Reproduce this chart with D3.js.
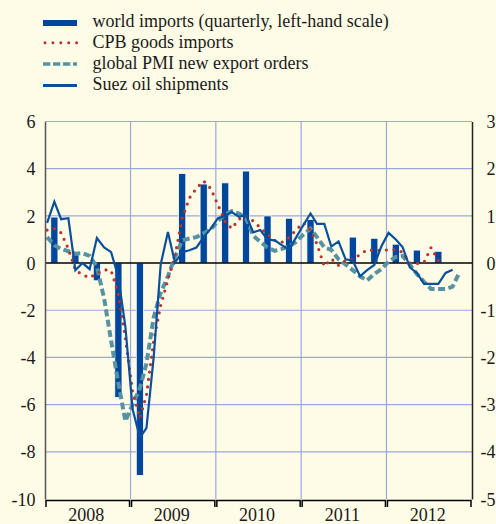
<!DOCTYPE html>
<html>
<head>
<meta charset="utf-8">
<script src="https://cdn.jsdelivr.net/npm/d3@7"></script>
<style>
    html, body { margin: 0; padding: 0; background: #fefce6; }
    svg { display: block; font-family: "Liberation Serif", "Times New Roman", serif; }
</style>
</head>
<body>
<div id="chart"></div>
<script>
// x axis: calendar years
const years = [2008, 2009, 2010, 2011, 2012];
const leftTicks = [-10, -8, -6, -4, -2, 0, 2, 4, 6];
const rightTicks = [-5, -4, -3, -2, -1, 0, 1, 2, 3];

// world imports, quarterly from 2008 Q1 (left-hand scale)
const worldImports = [1.95, 0.35, -0.75, -5.7, -9.0, 0, 3.8, 3.35, 3.4, 3.9, 2.0, 1.9, 1.85, 0, 1.1, 1.05, 0.8, 0.55, 0.5];

// monthly series from Jan 2008 (right-hand scale)
const cpbImports = [0.7, 0.73, 0.64, 0.3, -0.15, -0.25, -0.31, -0.22, -0.14, -0.16, -0.65, -1.6,
    -2.73, -3.28, -2.8, -1.65, -0.9, -0.35, 0.15, 0.95, 1.38, 1.58, 1.74, 1.58,
    1.23, 0.88, 0.73, 0.93, 1.0, 0.89, 0.75, 0.61, 0.48, 0.44, 0.54, 0.7,
    0.85, 0.7, 0.4, -0.07, 0.09, -0.05, 0.05, 0.08, 0.18, 0.28, 0.27, 0.27,
    0.28, 0.28, 0.23, 0.0, -0.01, 0.02, 0.33, 0.05];
const pmiExportOrders = [0.55, 0.38, 0.3, 0.25, 0.2, 0.21, 0.15, -0.08, -0.75, -1.65, -2.55, -3.35,
    -3.0, -2.65, -2.13, -1.15, -0.63, -0.28, 0.13, 0.48, 0.52, 0.55, 0.63, 0.71,
    0.89, 1.03, 1.1, 1.05, 0.95, 0.58, 0.45, 0.33, 0.26, 0.3, 0.35, 0.45,
    0.6, 0.73, 0.55, 0.33, 0.28, 0.08, -0.03, -0.15, -0.28, -0.37, -0.23, -0.13,
    0.03, 0.13, 0.15, -0.03, -0.23, -0.4, -0.55, -0.55, -0.55, -0.5, -0.18];
const suezOil = [0.85, 1.3, 0.93, 0.95, -0.15, 0.0, -0.13, 0.53, 0.33, 0.23, -0.3, -1.35,
    -3.1, -3.7, -3.5, -2.0, -0.03, 0.66, 0.01, 0.23, 0.27, 0.33, 0.55, 0.73,
    0.95, 1.0, 1.08, 0.98, 1.02, 0.65, 0.7, 0.5, 0.48, 0.38, 0.29, 0.54,
    0.8, 1.05, 0.83, 0.83, 0.35, 0.46, 0.08, 0.05, -0.28, -0.15, -0.04, 0.35,
    0.64, 0.5, 0.34, -0.09, -0.21, -0.44, -0.44, -0.44, -0.21, -0.14];

const legendLabels = [
    'world imports (quarterly, left-hand scale)',
    'CPB goods imports',
    'global PMI new export orders',
    'Suez oil shipments'
];

const colors = {
    bg: '#fefce6',
    grid: '#9ba7dc',
    bar: '#00479b',
    cpb: '#b8352b',
    pmi: '#5592a3',
    suez: '#0a4f9c'
};

const serif = '"Liberation Serif", "Times New Roman", serif';

function drawChart() {
    const width = 496, height = 524;
    const plot = { left: 45, right: 472, top: 121.5, bottom: 499 };

    const svg = d3.select('#chart').append('svg')
        .attr('width', width)
        .attr('height', height);

    svg.append('rect')
        .attr('width', width)
        .attr('height', height)
        .attr('fill', colors.bg);

    const x = d3.scaleTime()
        .domain([new Date(2008, 0, 1), new Date(2013, 0, 1)])
        .range([plot.left, plot.right]);
    const yL = d3.scaleLinear().domain([-10, 6]).range([plot.bottom, plot.top]);
    const yR = d3.scaleLinear().domain([-5, 3]).range([plot.bottom, plot.top]);

    const monthDate = i => new Date(2008, i, 10);
    const quarterDate = i => new Date(2008, i * 3 + 1, 10);

    // Grid
    svg.append('g').selectAll('line')
        .data(leftTicks.filter(d => d !== 0 && d !== -10))
        .join('line')
        .attr('x1', plot.left).attr('x2', plot.right)
        .attr('y1', d => yL(d)).attr('y2', d => yL(d))
        .attr('stroke', colors.grid).attr('stroke-width', 1.2);

    svg.append('g').selectAll('line')
        .data(years.slice(1))
        .join('line')
        .attr('x1', d => x(new Date(d, 0, 1))).attr('x2', d => x(new Date(d, 0, 1)))
        .attr('y1', plot.top).attr('y2', plot.bottom)
        .attr('stroke', colors.grid).attr('stroke-width', 1.2);

    // Bars
    svg.append('g').selectAll('rect')
        .data(worldImports)
        .join('rect')
        .attr('x', (d, i) => x(quarterDate(i)) - 3.6)
        .attr('width', 7.2)
        .attr('y', d => yL(Math.max(d, 0)))
        .attr('height', d => Math.abs(yL(d) - yL(0)))
        .attr('fill', colors.bar)
        .attr('stroke', '#ffffff')
        .attr('stroke-width', d => d === 0 ? 0 : 0.8);

    // Zero line
    svg.append('line')
        .attr('x1', plot.left).attr('x2', plot.right)
        .attr('y1', yL(0)).attr('y2', yL(0))
        .attr('stroke', '#000').attr('stroke-width', 1.5);

    // Lines
    const line = d3.line()
        .x((d, i) => x(monthDate(i)))
        .y(d => yR(d));

    svg.append('path')
        .datum(pmiExportOrders)
        .attr('d', line)
        .attr('fill', 'none')
        .attr('stroke', colors.pmi)
        .attr('stroke-width', 4)
        .attr('stroke-dasharray', '7 3.5');

    svg.append('path')
        .datum(cpbImports)
        .attr('d', line)
        .attr('fill', 'none')
        .attr('stroke', colors.cpb)
        .attr('stroke-width', 3.2)
        .attr('stroke-linecap', 'round')
        .attr('stroke-dasharray', '0 7.5');

    svg.append('path')
        .datum(suezOil)
        .attr('d', line)
        .attr('fill', 'none')
        .attr('stroke', colors.suez)
        .attr('stroke-width', 2.2);

    // Left axis
    const leftAxis = svg.append('g')
        .attr('transform', `translate(${plot.left},0)`)
        .call(d3.axisLeft(yL).tickValues(leftTicks).tickSize(0).tickPadding(9.5));
    leftAxis.select('.domain').attr('stroke', '#555').attr('stroke-width', 1.5);
    leftAxis.selectAll('text')
        .attr('font-family', serif)
        .attr('font-size', 18)
        .attr('fill', '#1a1a1a')
        .attr('dy', '0.34em')
        .text(d => d < 0 ? '-' + Math.abs(d) : d);

    // Right axis
    const rightAxis = svg.append('g')
        .attr('transform', `translate(${plot.right},0)`)
        .call(d3.axisRight(yR).tickValues(rightTicks).tickSize(0));
    rightAxis.select('.domain').attr('stroke', '#222').attr('stroke-width', 1.5);
    rightAxis.selectAll('text')
        .attr('font-family', serif)
        .attr('font-size', 18)
        .attr('fill', '#1a1a1a')
        .attr('text-anchor', 'end')
        .attr('x', 23.5)
        .attr('dy', '0.34em')
        .text(d => d < 0 ? '-' + Math.abs(d) : d);

    // Bottom axis: one bracket per year
    const bottom = svg.append('g');
    bottom.selectAll('path')
        .data(years)
        .join('path')
        .attr('d', d => {
            const x0 = x(new Date(d, 0, 1)) + 1;
            const x1 = x(new Date(d + 1, 0, 1)) - 1;
            return `M${x0},507V500.5H${x1}V507`;
        })
        .attr('fill', 'none')
        .attr('stroke', '#000')
        .attr('stroke-width', 1.5);

    bottom.selectAll('text')
        .data(years)
        .join('text')
        .attr('x', d => (x(new Date(d, 0, 1)) + x(new Date(d + 1, 0, 1))) / 2 - 1.5)
        .attr('y', 521)
        .attr('text-anchor', 'middle')
        .attr('font-family', serif)
        .attr('font-size', 18)
        .attr('fill', '#1a1a1a')
        .text(d => d);

    // Legend
    const legend = svg.append('g');
    const rowY = i => 21.5 + i * 21.3;
    const sx0 = 43, sx1 = 77;

    legend.append('rect')
        .attr('x', sx0).attr('y', rowY(0) - 1.5)
        .attr('width', sx1 - sx0).attr('height', 6)
        .attr('fill', colors.bar);

    legend.append('line')
        .attr('x1', sx0 + 2).attr('x2', sx1)
        .attr('y1', rowY(1)).attr('y2', rowY(1))
        .attr('stroke', colors.cpb).attr('stroke-width', 3)
        .attr('stroke-linecap', 'round').attr('stroke-dasharray', '0 7.9');

    legend.append('line')
        .attr('x1', sx0).attr('x2', sx1)
        .attr('y1', rowY(2)).attr('y2', rowY(2))
        .attr('stroke', colors.pmi).attr('stroke-width', 3.5)
        .attr('stroke-dasharray', '7.3 2.7');

    legend.append('line')
        .attr('x1', sx0).attr('x2', sx1)
        .attr('y1', rowY(3)).attr('y2', rowY(3))
        .attr('stroke', colors.suez).attr('stroke-width', 3);

    legend.selectAll('text')
        .data(legendLabels)
        .join('text')
        .attr('x', 92.5)
        .attr('y', (d, i) => rowY(i) + 5)
        .attr('font-family', serif)
        .attr('font-size', 18)
        .attr('fill', '#1a1a1a')
        .text(d => d);
}

drawChart();
</script>
</body>
</html>
